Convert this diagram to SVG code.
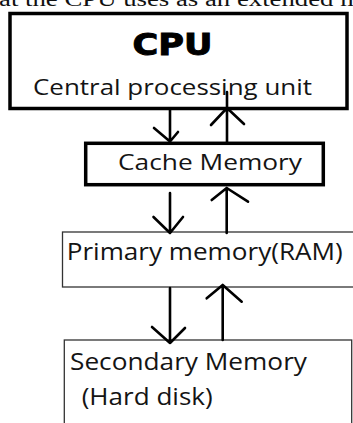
<svg xmlns="http://www.w3.org/2000/svg" width="353" height="423" viewBox="0 0 353 423">
<style>
.t{font-family:"Open Sans","Noto Sans",sans-serif;fill:#141414}
.thick{fill:#fff;stroke:#000;stroke-width:3.5}
.thin{fill:#fff;stroke:#333;stroke-width:1.3}
.c{fill:none;stroke:#000;stroke-width:2.6;stroke-linecap:round;stroke-linejoin:round}
</style>
<rect width="353" height="423" fill="#fff"/>
<text x="-1" y="6" font-family="Liberation Serif, serif" font-size="20" fill="#111" textLength="362" lengthAdjust="spacingAndGlyphs">at the CPU uses as an extended m</text>
<g id="cpu">
<rect class="thick" x="10" y="13.5" width="337" height="95"/>
<text x="172.5" y="55" text-anchor="middle" font-family="DejaVu Sans, sans-serif" font-weight="bold" font-size="31" stroke="#000" stroke-width="1" textLength="80" lengthAdjust="spacingAndGlyphs">CPU</text>
<text class="t" x="33" y="95" font-size="21" textLength="279" lengthAdjust="spacingAndGlyphs">Central processing unit</text>
</g>
<g id="cache">
<rect class="thick" x="85.7" y="143.3" width="237.6" height="41.4" stroke-width="3.3"/>
<text class="t" x="118" y="170" font-size="22" textLength="184" lengthAdjust="spacingAndGlyphs">Cache Memory</text>
</g>
<g id="primary">
<rect class="thin" x="62.5" y="232" width="300" height="55"/>
<text class="t" x="66.7" y="260" font-size="23" textLength="276" lengthAdjust="spacingAndGlyphs">Primary memory(RAM)</text>
</g>
<g id="secondary">
<rect class="thin" x="64.3" y="340" width="287.4" height="100"/>
<text class="t" x="70" y="370" font-size="23" textLength="237" lengthAdjust="spacingAndGlyphs">Secondary Memory</text>
<text class="t" x="81.7" y="405" font-size="23" textLength="131" lengthAdjust="spacingAndGlyphs">(Hard disk)</text>
</g>
<g id="connectors">
<path class="c" d="M170 110 V141.5 M154 128 L170 141.5 L178 132"/>
<path class="c" d="M227 92 V142 M211 125 L227 108 L244 124"/>
<path class="c" d="M170 193 V233 M153.5 217 L170 233 L183 217"/>
<path class="c" d="M226.7 233 V188 M211.7 200 L226.7 188 L248 201.7"/>
<path class="c" d="M170 288 V343 M152 327 L170 343 L185 328"/>
<path class="c" d="M222.7 340 V285 M206.7 298.3 L222.7 285 L241.7 301.7"/>
</g>
</svg>
